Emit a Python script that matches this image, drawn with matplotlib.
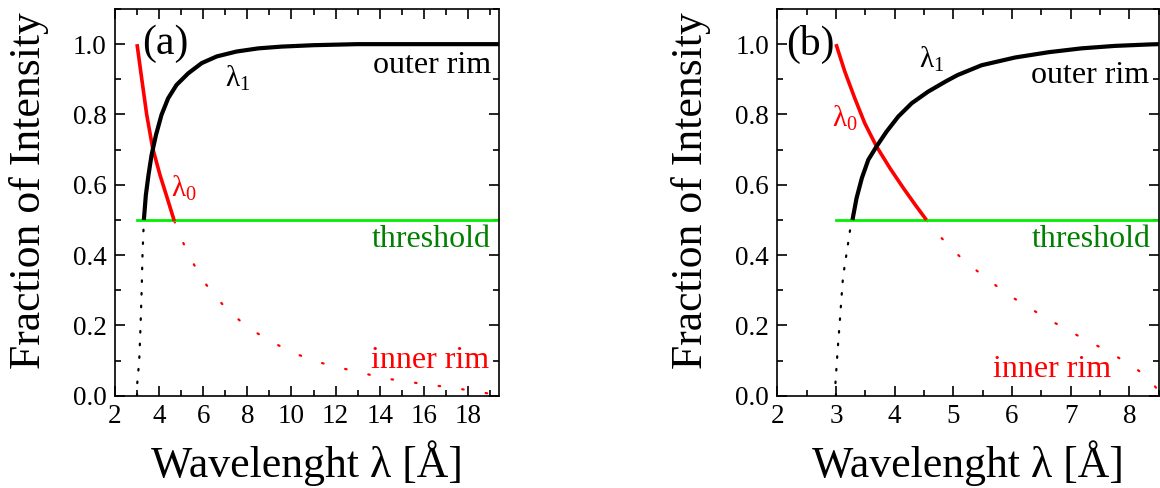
import matplotlib

matplotlib.use("Agg")

import matplotlib.pyplot as plt
from matplotlib.ticker import MultipleLocator

plt.rcParams["font.family"] = ["Liberation Serif", "DejaVu Serif"]
plt.rcParams["mathtext.fontset"] = "custom"
plt.rcParams["mathtext.rm"] = "Liberation Serif"
plt.rcParams["mathtext.it"] = "Liberation Serif:italic"

# panel (a): long wavelength range
a_outer_x = [3.31, 3.40, 3.52, 3.66, 3.86, 4.11, 4.41, 4.79, 5.32, 5.93, 6.61, 7.51,
             8.5, 9.55, 11.0, 13.0, 16.0, 19.4]
a_outer_y = [0.500, 0.571, 0.628, 0.685, 0.742, 0.799, 0.846, 0.884, 0.917, 0.946, 0.965, 0.979,
             0.988, 0.993, 0.997, 1.0, 1.0, 1.0]
a_outer_ext_x = [3.00, 3.01, 3.10, 3.16, 3.21, 3.25, 3.31]
a_outer_ext_y = [0.000, 0.035, 0.100, 0.200, 0.300, 0.405, 0.500]
a_inner_x = [3.00, 3.21, 3.44, 3.71, 4.04, 4.37, 4.69]
a_inner_y = [1.000, 0.903, 0.799, 0.704, 0.628, 0.562, 0.497]
a_inner_ext_x = [4.69, 4.91, 5.40, 6.03, 6.90, 7.93, 8.99, 10.05, 11.13, 12.19,
                 13.25, 14.30, 15.36, 16.42, 17.48, 18.53, 19.13]
a_inner_ext_y = [0.497, 0.460, 0.393, 0.324, 0.258, 0.198, 0.157, 0.123, 0.097, 0.080,
                 0.064, 0.049, 0.039, 0.030, 0.021, 0.011, 0.004]

# panel (b): short wavelength range
b_outer_x = [3.28, 3.35, 3.44, 3.55, 3.69, 3.86, 4.06, 4.29, 4.57, 4.88, 5.07,
             5.48, 6.05, 6.62, 7.18, 7.75, 8.32, 8.5]
b_outer_y = [0.500, 0.562, 0.619, 0.671, 0.709, 0.751, 0.794, 0.832, 0.865, 0.895, 0.912,
             0.940, 0.962, 0.977, 0.988, 0.995, 0.999, 1.0]
b_outer_ext_x = [3.00, 2.99, 3.03, 3.06, 3.09, 3.12, 3.18, 3.24, 3.28]
b_outer_ext_y = [0.000, 0.035, 0.135, 0.201, 0.272, 0.339, 0.405, 0.472, 0.500]
b_inner_x = [3.00, 3.15, 3.32, 3.49, 3.69, 3.92, 4.15, 4.35, 4.54]
b_inner_y = [1.000, 0.922, 0.846, 0.775, 0.709, 0.647, 0.590, 0.543, 0.500]
b_inner_ext_x = [4.54, 4.73, 5.12, 5.52, 5.92, 6.32, 6.72, 7.12, 7.51, 7.91, 8.31, 8.46, 8.5]
b_inner_ext_y = [0.500, 0.460, 0.394, 0.339, 0.289, 0.247, 0.208, 0.171, 0.137, 0.099, 0.054, 0.021, 0.005]

threshold = 0.5

RED = "#ff0000"
GREEN_LINE = "#00f000"
GREEN_TEXT = "#008000"


def setup_axes(ax, xlim, xmajor, xminor):
    ax.set_xlim(*xlim)
    ax.set_ylim(0, 1.1)
    ax.xaxis.set_major_locator(MultipleLocator(xmajor))
    ax.xaxis.set_minor_locator(MultipleLocator(xminor))
    ax.yaxis.set_major_locator(MultipleLocator(0.2))
    ax.yaxis.set_minor_locator(MultipleLocator(0.1))
    ax.yaxis.set_major_formatter(lambda v, pos: f"{v:.1f}")
    ax.tick_params(which="both", direction="in", top=True, right=True, labelsize=19.5, width=1.2)
    ax.tick_params(which="major", length=7, pad=6)
    ax.tick_params(which="minor", length=4)
    for sp in ax.spines.values():
        sp.set_linewidth(1.2)
    ax.set_xlabel("Wavelenght \u03bb [\u00c5]", fontsize=31.5, labelpad=8)
    ax.set_ylabel("Fraction of Intensity", fontsize=31.5)
    ax.yaxis.set_label_coords(-0.173, 0.53)


def draw_panel(ax, outer, outer_ext, inner, inner_ext, thr_start, thr_end):
    ax.plot(*outer_ext, color="black", lw=1.6, ls=(0, (0.7, 5)), dash_capstyle="round")
    ax.plot(*inner_ext, color=RED, lw=1.6, ls=(0, (0.7, 10)), dash_capstyle="round")
    ax.plot([thr_start, thr_end], [threshold, threshold], color=GREEN_LINE, lw=2)
    ax.plot(*inner, color=RED, lw=2.6, solid_capstyle="butt", solid_joinstyle="round")
    ax.plot(*outer, color="black", lw=3.0, solid_capstyle="butt", solid_joinstyle="round")


fig = plt.figure(figsize=(11.6, 4.88), dpi=100)
ax_a = fig.add_axes([0.0991, 0.189, 0.3310, 0.7926])
ax_b = fig.add_axes([0.6701, 0.189, 0.3289, 0.7926])

setup_axes(ax_a, (2, 19.4), 2, 1)
draw_panel(ax_a, (a_outer_x, a_outer_y), (a_outer_ext_x, a_outer_ext_y),
           (a_inner_x, a_inner_y), (a_inner_ext_x, a_inner_ext_y), 3.0, 19.4)
ax_a.text(3.25, 1.0, "(a)", fontsize=30, ha="left", va="center")
ax_a.text(19.05, 0.917, "outer rim", fontsize=23, ha="right", va="baseline")
ax_a.text(19.05, 0.424, "threshold", fontsize=23, ha="right", va="baseline", color=GREEN_TEXT)
ax_a.text(18.95, 0.080, "inner rim", fontsize=23, ha="right", va="baseline", color=RED)
ax_a.text(7.0, 0.879, r"$\mathrm{\lambda}_{\mathrm{1}}$", fontsize=21, ha="left", va="baseline")
ax_a.text(4.52, 0.566, r"$\mathrm{\lambda}_{\mathrm{0}}$", fontsize=21, ha="left", va="baseline", color=RED)

setup_axes(ax_b, (2, 8.5), 1, 0.5)
draw_panel(ax_b, (b_outer_x, b_outer_y), (b_outer_ext_x, b_outer_ext_y),
           (b_inner_x, b_inner_y), (b_inner_ext_x, b_inner_ext_y), 3.0, 8.5)
ax_b.text(2.15, 1.0, "(b)", fontsize=30, ha="left", va="center")
ax_b.text(8.33, 0.889, "outer rim", fontsize=23, ha="right", va="baseline")
ax_b.text(8.36, 0.424, "threshold", fontsize=23, ha="right", va="baseline", color=GREEN_TEXT)
ax_b.text(7.69, 0.054, "inner rim", fontsize=23, ha="right", va="baseline", color=RED)
ax_b.text(4.41, 0.932, r"$\mathrm{\lambda}_{\mathrm{1}}$", fontsize=21, ha="left", va="baseline")
ax_b.text(2.93, 0.766, r"$\mathrm{\lambda}_{\mathrm{0}}$", fontsize=21, ha="left", va="baseline", color=RED)

fig.savefig("out.png", dpi=100)
plt.close(fig)
